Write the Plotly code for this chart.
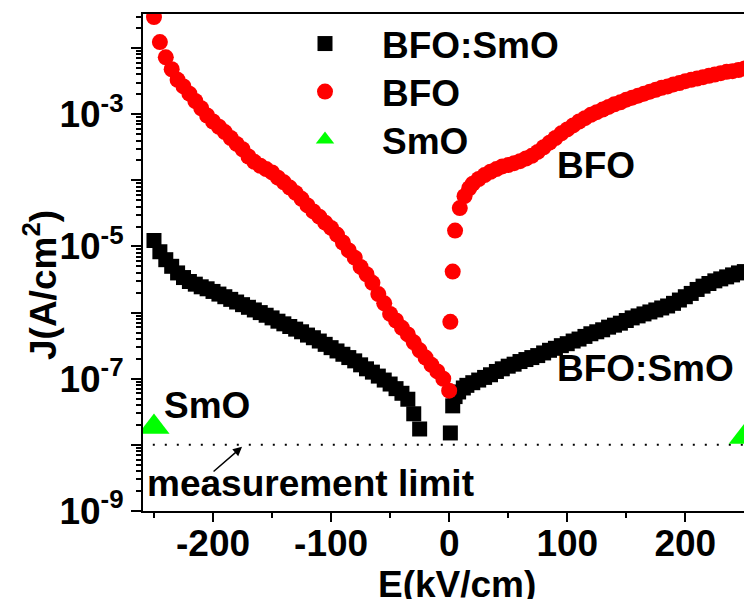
import numpy as np
import plotly.graph_objects as go

# ---------------- data ----------------
# BFO:SmO (black squares), E in kV/cm, log10 J (A/cm^2)
bfosmo_e_neg = [-250, -245, -240, -235, -230, -225, -220, -215, -210, -205, -200, -195, -190, -185,
                -180, -175, -170, -165, -160, -155, -150, -145, -140, -135, -130, -125, -120, -115,
                -110, -105, -100, -95, -90, -85, -80, -75, -70, -65, -60, -55, -50, -45, -40, -35,
                -30, -25]
bfosmo_logj_neg = [-4.91, -5.08, -5.20, -5.30, -5.40, -5.47, -5.53, -5.57, -5.61, -5.64, -5.68, -5.72,
                   -5.76, -5.80, -5.84, -5.88, -5.92, -5.96, -6.00, -6.04, -6.08, -6.13, -6.17, -6.21,
                   -6.25, -6.29, -6.34, -6.38, -6.43, -6.48, -6.53, -6.58, -6.63, -6.68, -6.73, -6.79,
                   -6.85, -6.90, -6.96, -7.02, -7.08, -7.15, -7.22, -7.31, -7.53, -7.76]
bfosmo_e_pos = [1, 3, 5, 8, 12, 15, 20, 25, 30, 35, 40, 45, 50, 55, 60, 65, 70, 75, 80, 85, 90, 95,
                100, 105, 110, 115, 120, 125, 130, 135, 140, 145, 150, 155, 160, 165, 170, 175, 180,
                185, 190, 195, 200, 205, 210, 215, 220, 225, 230, 235, 240, 245, 250]
bfosmo_logj_pos = [-7.82, -7.41, -7.27, -7.20, -7.14, -7.10, -7.06, -7.02, -6.98, -6.94, -6.89, -6.85,
                   -6.81, -6.78, -6.74, -6.71, -6.68, -6.65, -6.61, -6.57, -6.54, -6.50, -6.47, -6.43,
                   -6.40, -6.36, -6.32, -6.29, -6.26, -6.22, -6.19, -6.16, -6.12, -6.08, -6.05, -6.02,
                   -5.99, -5.96, -5.93, -5.90, -5.86, -5.81, -5.76, -5.71, -5.65, -5.60, -5.56, -5.52,
                   -5.49, -5.46, -5.43, -5.40, -5.38]

# BFO (red circles)
bfo_e_neg = [-250, -245, -240, -235, -230, -225, -220, -215, -210, -205, -200, -195, -190, -185, -180,
             -175, -170, -165, -160, -155, -150, -145, -140, -135, -130, -125, -120, -115, -110, -105,
             -100, -95, -90, -85, -80, -75, -70, -65, -60, -55, -50, -45, -40, -35, -30, -25, -20, -15,
             -10, -5, 0]
bfo_logj_neg = [-1.53, -1.91, -2.14, -2.32, -2.48, -2.58, -2.69, -2.80, -2.91, -3.02, -3.11, -3.19,
                -3.27, -3.36, -3.45, -3.53, -3.64, -3.72, -3.78, -3.83, -3.88, -3.96, -4.03, -4.11,
                -4.19, -4.28, -4.38, -4.47, -4.55, -4.64, -4.72, -4.82, -4.94, -5.06, -5.17, -5.31,
                -5.42, -5.55, -5.72, -5.86, -6.02, -6.12, -6.23, -6.33, -6.45, -6.57, -6.68, -6.79,
                -6.89, -7.00, -7.18]
bfo_e_pos = [1, 3, 5, 9, 13, 17, 20, 25, 30, 35, 40, 45, 50, 55, 60, 65, 70, 75, 80, 85, 90, 95, 100,
             105, 110, 115, 120, 125, 130, 135, 140, 145, 150, 155, 160, 165, 170, 175, 180, 185, 190,
             195, 200, 205, 210, 215, 220, 225, 230, 235, 240, 245, 250]
bfo_logj_pos = [-6.14, -5.38, -4.76, -4.42, -4.24, -4.12, -4.05, -3.98, -3.92, -3.87, -3.83, -3.79,
                -3.77, -3.74, -3.71, -3.67, -3.63, -3.57, -3.50, -3.43, -3.36, -3.29, -3.23, -3.17,
                -3.11, -3.06, -3.01, -2.97, -2.93, -2.89, -2.85, -2.82, -2.78, -2.75, -2.72, -2.69,
                -2.66, -2.63, -2.60, -2.58, -2.55, -2.53, -2.50, -2.48, -2.46, -2.44, -2.42, -2.40,
                -2.38, -2.36, -2.35, -2.33, -2.31]

# SmO (green triangles)
smo_e = [-250, 250]
smo_logj = [-7.73, -7.88]

# measurement limit
limit_e = [-251, 250]
limit_j = [1e-8, 1e-8]

# axes
x_range = [-259.3, 249.7]
y_range_log = [-9, -1.485]
x_tickvals = [-200, -100, 0, 100, 200]
x_ticktext = ["-200", "-100", "0", "100", "200"]
x_minorvals = [-250, -150, -50, 50, 150, 250]
y_exps = [-9, -8, -7, -6, -5, -4, -3, -2]
y_ticktext = ["10<sup>-9</sup>", "", "10<sup>-7</sup>", "", "10<sup>-5</sup>", "", "10<sup>-3</sup>", ""]

# ---------------- figure ----------------
FONT = "Liberation Sans, Arial, Helvetica, sans-serif"
BIG = 37
PL, PT, PB, PW, PH = 143, 14, 511, 601, 497  # plot-area pixel geometry


def tj(a):
    return [10 ** v for v in a]


def px_x(px):
    return (px - PL) / PW


def px_y(py):
    return (PB - py) / PH


fig = go.Figure()
fig.add_trace(go.Scatter(
    x=bfosmo_e_neg + bfosmo_e_pos, y=tj(bfosmo_logj_neg + bfosmo_logj_pos),
    mode="markers", name="BFO:SmO", legend="legend",
    marker=dict(symbol="square", size=15, color="#000000", line=dict(width=0))))
fig.add_trace(go.Scatter(
    x=bfo_e_neg + bfo_e_pos, y=tj(bfo_logj_neg + bfo_logj_pos),
    mode="markers", name="BFO", legend="legend2",
    marker=dict(symbol="circle", size=16, color="#FF0000", line=dict(width=0))))
fig.add_trace(go.Scatter(
    x=limit_e, y=limit_j, mode="lines", showlegend=False,
    line=dict(color="#000000", width=2, dash="2px,10px")))
fig.add_trace(go.Scatter(
    x=smo_e, y=tj(smo_logj), mode="markers", name="SmO", legend="legend3",
    marker=dict(symbol="triangle-up", size=27, color="#00FF00", line=dict(width=0))))

minor_y = [m * 10 ** e for e in range(-9, -1) for m in range(2, 10)]

fig.update_xaxes(
    range=x_range, tickmode="array", tickvals=x_tickvals, ticktext=x_ticktext,
    ticks="outside", ticklen=9, tickwidth=2, tickcolor="#000000", ticklabelstandoff=-10,
    showline=True, linewidth=2, linecolor="#000000", mirror=True,
    showgrid=False, zeroline=False,
    tickfont=dict(family=FONT, size=BIG, color="#000000", weight="bold"),
    minor=dict(tickmode="array", tickvals=x_minorvals, ticks="outside", ticklen=5,
               tickwidth=2, tickcolor="#000000", showgrid=False),
)
fig.update_yaxes(
    type="log", range=y_range_log, tickmode="array",
    tickvals=[10 ** e for e in y_exps], ticktext=y_ticktext,
    ticks="outside", ticklen=10, tickwidth=2, tickcolor="#000000",
    showline=True, linewidth=2, linecolor="#000000", mirror=True,
    showgrid=False, zeroline=False,
    tickfont=dict(family=FONT, size=BIG, color="#000000", weight="bold"),
    minor=dict(tickmode="array", tickvals=minor_y, ticks="outside", ticklen=5,
               tickwidth=1.5, tickcolor="#000000", showgrid=False),
)

ann_font = dict(family=FONT, size=BIG, color="#000000", weight="bold")
annotations = [
    dict(text="SmO", x=-243.5, y=-7.41, xref="x", yref="y", xanchor="left", yanchor="middle",
         showarrow=False, font=ann_font),
    dict(text="BFO", x=89.5, y=-3.77, xref="x", yref="y", xanchor="left", yanchor="middle",
         showarrow=False, font=ann_font),
    dict(text="BFO:SmO", x=89.5, y=-6.85, xref="x", yref="y", xanchor="left", yanchor="middle",
         showarrow=False, font=ann_font),
    dict(text="measurement limit", x=-258, y=-8.58, xref="x", yref="y", xanchor="left",
         yanchor="middle", showarrow=False, font=ann_font),
    dict(text="", x=-175.4, y=-8.03, xref="x", yref="y", showarrow=True, ax=-30, ay=26,
         arrowhead=2, arrowsize=1.2, arrowwidth=1.5, arrowcolor="#000000"),
    dict(text="E(kV/cm)", x=px_x(457), y=px_y(584), xref="paper", yref="paper",
         xanchor="center", yanchor="middle", showarrow=False, font=ann_font),
    dict(text="J(A/cm<sup>2</sup>)", x=px_x(40), y=px_y(285), xref="paper",
         yref="paper", xanchor="center", yanchor="middle", textangle=-90, showarrow=False,
         font=ann_font),
]

ITEMW = 104
leg_common = dict(xanchor="left", yanchor="top", bgcolor="rgba(0,0,0,0)", borderwidth=0,
                  itemwidth=ITEMW,
                  font=dict(family=FONT, size=BIG, color="#000000", weight="bold"))
leg_left = 325 - (ITEMW / 2 + 5)

fig.update_layout(
    width=744, height=599,
    margin=dict(l=PL, r=0, t=PT, b=599 - PB, autoexpand=False),
    paper_bgcolor="#FFFFFF", plot_bgcolor="#FFFFFF",
    showlegend=True,
    legend=dict(x=px_x(leg_left), y=px_y(44 - 31), **leg_common),
    legend2=dict(x=px_x(leg_left), y=px_y(92 - 31), **leg_common),
    legend3=dict(x=px_x(leg_left), y=px_y(140 - 31), **leg_common),
    annotations=annotations,
)

fig.write_html("out.html")
